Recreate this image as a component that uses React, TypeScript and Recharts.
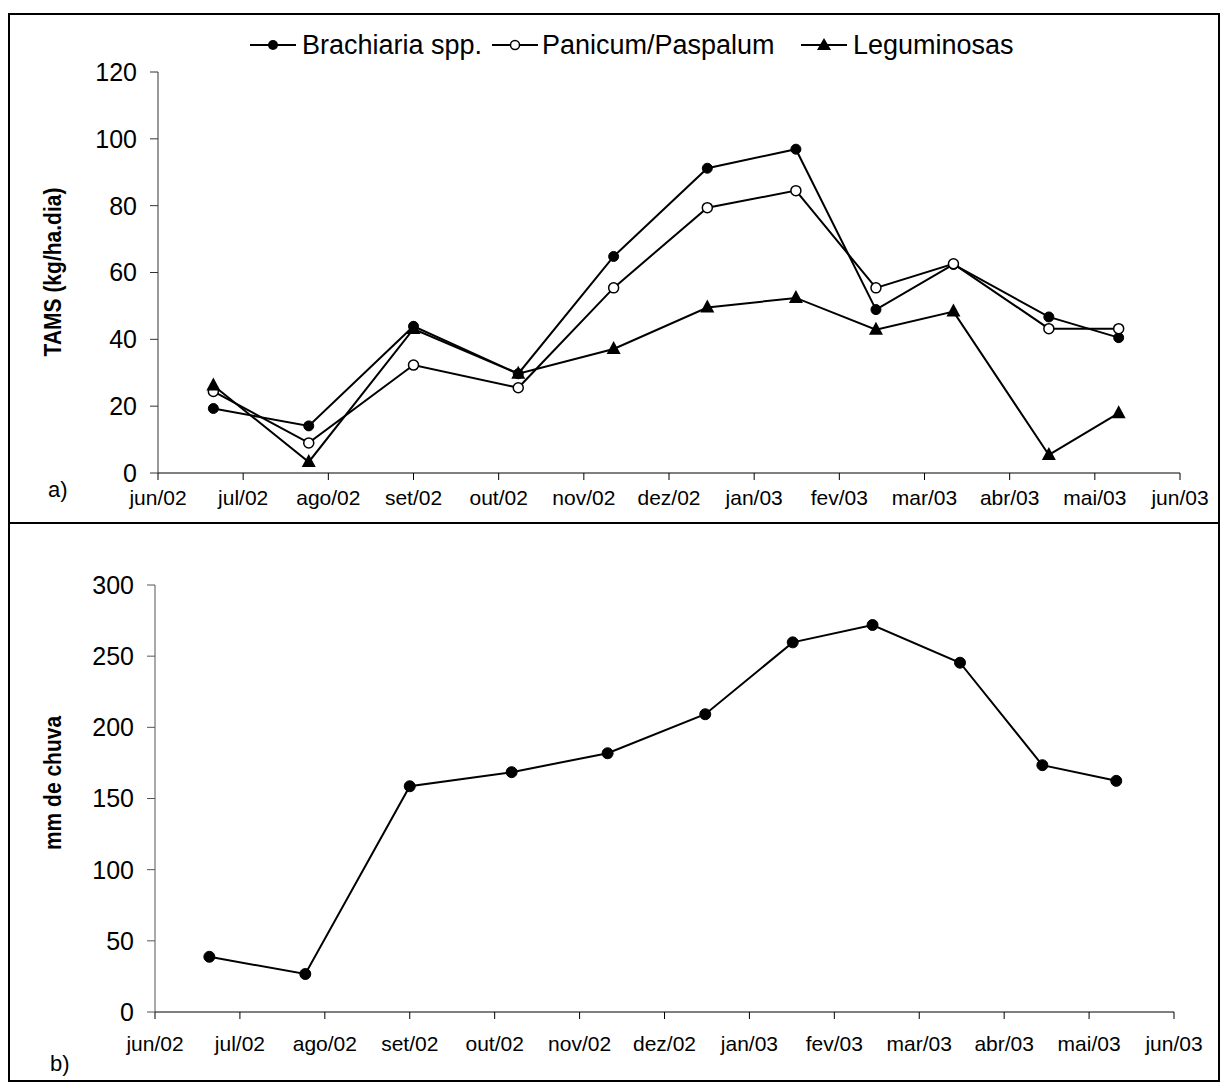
import React from 'react';
import { LineChart, Line, XAxis, YAxis } from 'recharts';

// month ticks (0 = jun/02 ... 12 = jun/03)
const monthLabels = [
  'jun/02', 'jul/02', 'ago/02', 'set/02', 'out/02', 'nov/02', 'dez/02',
  'jan/03', 'fev/03', 'mar/03', 'abr/03', 'mai/03', 'jun/03',
];
const monthTicks = monthLabels.map((_, i) => i);

// a) TAMS (kg/ha.dia) — sampling dates as fractional months
const tamsX = [0.65, 1.77, 3.0, 4.23, 5.35, 6.45, 7.49, 8.43, 9.34, 10.46, 11.28];
const brachiaria = [19.3, 14.1, 43.9, 29.7, 64.8, 91.2, 96.9, 48.9, 62.4, 46.7, 40.5];
const panicum = [24.4, 9.0, 32.3, 25.5, 55.4, 79.4, 84.5, 55.4, 62.6, 43.2, 43.2];
const leguminosas = [26.2, 3.3, 43.1, 29.7, 37.1, 49.5, 52.4, 42.9, 48.3, 5.4, 17.9];
const tamsTicks = [0, 20, 40, 60, 80, 100, 120];

// b) mm de chuva
const rainX = [0.64, 1.77, 3.0, 4.2, 5.33, 6.48, 7.51, 8.45, 9.48, 10.45, 11.32];
const rain = [38.8, 26.7, 158.6, 168.5, 181.8, 209.2, 259.7, 271.9, 245.4, 173.4, 162.4];
const rainTicks = [0, 50, 100, 150, 200, 250, 300];

const tamsData = tamsX.map((x, i) => ({
  x,
  brachiaria: brachiaria[i],
  panicum: panicum[i],
  leguminosas: leguminosas[i],
}));
const rainData = rainX.map((x, i) => ({ x, rain: rain[i] }));

const FONT = '"Liberation Sans", Arial, sans-serif';

function TriangleDot(props: any) {
  const { cx, cy, index } = props;
  if (cx == null || cy == null) return <g key={`t-${index}`} />;
  return (
    <polygon
      key={`t-${index}`}
      points={`${cx},${cy - 8} ${cx - 7},${cy + 5} ${cx + 7},${cy + 5}`}
      fill="#000"
    />
  );
}

function Marker({ kind, left }: { kind: 'filled' | 'open' | 'triangle'; left: number }) {
  return (
    <svg width={46} height={20} style={{ position: 'absolute', left, top: 35 }}>
      <line x1={0} y1={10} x2={46} y2={10} stroke="#000" strokeWidth={2} />
      {kind === 'filled' && <circle cx={23} cy={10} r={5} fill="#000" />}
      {kind === 'open' && <circle cx={23} cy={10} r={4.5} fill="#fff" stroke="#000" strokeWidth={1.5} />}
      {kind === 'triangle' && <polygon points="23,3 16,15 30,15" fill="#000" />}
    </svg>
  );
}

const legendText: React.CSSProperties = {
  position: 'absolute',
  top: 29,
  fontSize: 27,
  lineHeight: '32px',
  whiteSpace: 'nowrap',
};

const frame: React.CSSProperties = {
  position: 'absolute',
  left: 8,
  width: 1212,
  border: '2px solid #000',
  boxSizing: 'border-box',
};

const yTitle: React.CSSProperties = {
  position: 'absolute',
  fontFamily: FONT,
  fontWeight: 'bold',
  fontSize: 21,
  whiteSpace: 'nowrap',
  transform: 'translate(-50%, -50%) rotate(-90deg) scaleY(1.1)',
};

export default function App() {
  const tickStyleY = { fontSize: 25, fill: '#000', fontFamily: FONT };
  const tickStyleX = { fontSize: 21, fill: '#000', fontFamily: FONT };

  return (
    <div style={{ position: 'absolute', left: 0, top: 0, width: 1226, height: 1084, background: '#fff', fontFamily: FONT }}>
      <div style={{ ...frame, top: 13, height: 511 }} />
      <div style={{ ...frame, top: 522, height: 560 }} />

      {/* legend */}
      <Marker kind="filled" left={250} />
      <div style={{ ...legendText, left: 302 }}>Brachiaria spp.</div>
      <Marker kind="open" left={492} />
      <div style={{ ...legendText, left: 542 }}>Panicum/Paspalum</div>
      <Marker kind="triangle" left={801} />
      <div style={{ ...legendText, left: 853 }}>Leguminosas</div>

      <div style={{ position: 'absolute', left: 0, top: 0 }}>
        <LineChart width={1226} height={522} data={tamsData} margin={{ top: 72, right: 46, left: 98, bottom: 9 }}>
          <XAxis
            type="number"
            dataKey="x"
            domain={[0, 12]}
            ticks={monthTicks}
            interval={0}
            tickFormatter={(v) => monthLabels[v]}
            tick={tickStyleX}
            tickSize={7}
            tickMargin={10}
            height={40}
            stroke="#000"
          />
          <YAxis
            domain={[0, 120]}
            ticks={tamsTicks}
            interval={0}
            tick={tickStyleY}
            tickSize={8}
            tickMargin={13}
            width={60}
            stroke="#333"
          />
          <Line dataKey="brachiaria" stroke="#000" strokeWidth={2} dot={{ r: 5, fill: '#000', stroke: '#000', strokeWidth: 1 }} isAnimationActive={false} />
          <Line dataKey="panicum" stroke="#000" strokeWidth={2} dot={{ r: 5, fill: '#fff', stroke: '#000', strokeWidth: 1.5 }} isAnimationActive={false} />
          <Line dataKey="leguminosas" stroke="#000" strokeWidth={2} dot={TriangleDot} isAnimationActive={false} />
        </LineChart>
      </div>

      <div style={{ position: 'absolute', left: 0, top: 522 }}>
        <LineChart width={1226} height={560} data={rainData} margin={{ top: 63, right: 52, left: 95, bottom: 30 }}>
          <XAxis
            type="number"
            dataKey="x"
            domain={[0, 12]}
            ticks={monthTicks}
            interval={0}
            tickFormatter={(v) => monthLabels[v]}
            tick={tickStyleX}
            tickSize={7}
            tickMargin={17}
            height={40}
            stroke="#000"
          />
          <YAxis
            domain={[0, 300]}
            ticks={rainTicks}
            interval={0}
            tick={tickStyleY}
            tickSize={8}
            tickMargin={13}
            width={60}
            stroke="#555"
          />
          <Line dataKey="rain" stroke="#000" strokeWidth={2} dot={{ r: 5.5, fill: '#000', stroke: '#000', strokeWidth: 1 }} isAnimationActive={false} />
        </LineChart>
      </div>

      <div style={{ ...yTitle, left: 53, top: 272 }}>TAMS (kg/ha.dia)</div>
      <div style={{ ...yTitle, left: 53, top: 783 }}>mm de chuva</div>

      <div style={{ position: 'absolute', left: 48, top: 477, fontSize: 22 }}>a)</div>
      <div style={{ position: 'absolute', left: 50, top: 1051, fontSize: 22 }}>b)</div>
    </div>
  );
}
